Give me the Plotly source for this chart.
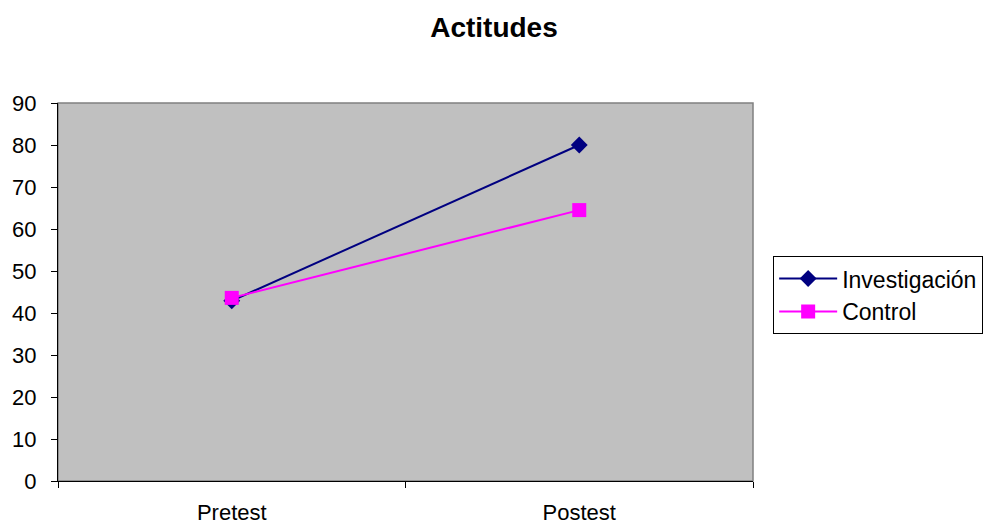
import plotly.graph_objects as go

# Attitude scores, pre- and post-test, for the two groups
phases = ["Pretest", "Postest"]
investigacion = [42.9, 80.0]
control = [43.6, 64.5]
y_ticks = [0, 10, 20, 30, 40, 50, 60, 70, 80, 90]

FONT = "Liberation Sans, Arial, sans-serif"

fig = go.Figure()
fig.add_trace(go.Scatter(
    x=phases, y=investigacion, name="Investigación", mode="lines+markers",
    line=dict(color="#000080", width=2),
    marker=dict(symbol="diamond", size=13, color="#000080"),
))
fig.add_trace(go.Scatter(
    x=phases, y=control, name="Control", mode="lines+markers",
    line=dict(color="#FF00FF", width=2),
    marker=dict(symbol="square", size=14, color="#FF00FF"),
))

# gray frame around the plotting area (top and right edges show)
fig.add_shape(type="rect", xref="paper", yref="paper", x0=0, y0=0, x1=1, y1=1,
              line=dict(color="#808080", width=1.5), layer="below")

fig.update_layout(
    width=984, height=524,
    margin=dict(l=58, r=231, t=103, b=43, autoexpand=False),
    paper_bgcolor="white",
    plot_bgcolor="#C0C0C0",
    font=dict(family=FONT, size=22, color="black"),
    title=dict(text="<b>Actitudes</b>", x=0.502, xanchor="center", y=0.948, yanchor="middle",
               font=dict(family=FONT, size=28, color="black")),
    showlegend=True,
    legend=dict(x=1.029, y=0.595, xanchor="left", yanchor="top",
                bordercolor="black", borderwidth=1, bgcolor="white",
                itemwidth=58, tracegroupgap=0,
                font=dict(family=FONT, size=23, color="black")),
    xaxis=dict(type="category", range=[-0.5, 1.5], tickson="boundaries",
               showline=True, linecolor="black", linewidth=1,
               ticks="outside", ticklen=6, tickcolor="black",
               showgrid=False, zeroline=False, ticklabelstandoff=12),
    yaxis=dict(range=[0, 90], tickvals=y_ticks, showline=True, linecolor="black", linewidth=1,
               ticks="outside", ticklen=6, tickcolor="black",
               showgrid=False, zeroline=False, ticklabelstandoff=10),
)

fig.write_html("out.html")
